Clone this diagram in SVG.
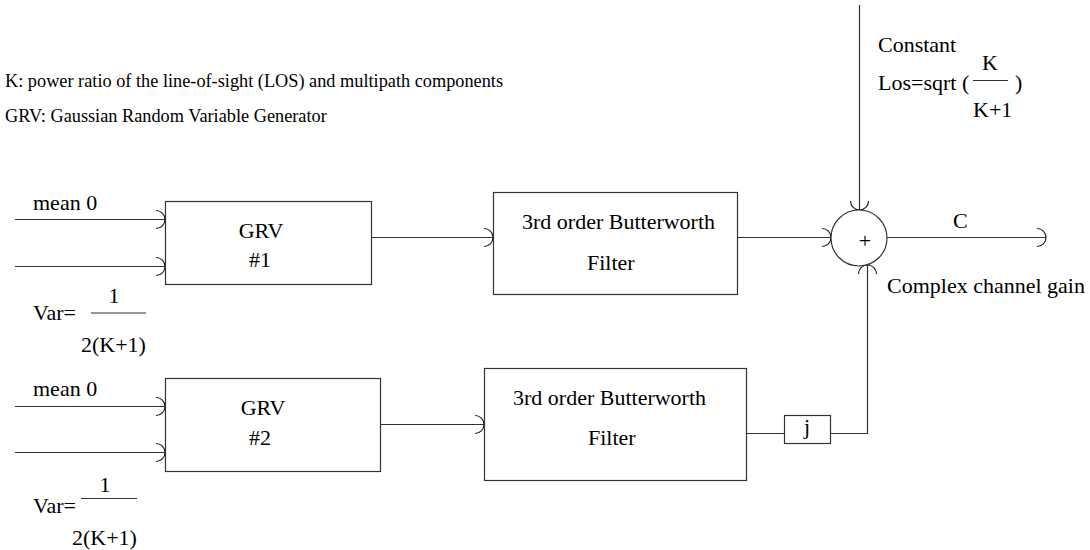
<svg xmlns="http://www.w3.org/2000/svg" width="1090" height="550" viewBox="0 0 1090 550">
<style>
text{font-family:"Liberation Serif","Times New Roman",serif;fill:#000;font-size:22px}
.hdr{font-size:18.3px}
.box{fill:#fff;stroke:#333;stroke-width:1.2}
.ln{fill:none;stroke:#333;stroke-width:1.2}
.arr{marker-end:url(#arc)}
.mid{text-anchor:middle}
</style>
<defs>
<marker id="arc" markerUnits="userSpaceOnUse" markerWidth="24" markerHeight="24" viewBox="-12 -12 24 24" refX="0" refY="0" orient="auto" overflow="visible">
<path d="M-9,-9 A9,9 0 0 1 -9,9" fill="none" stroke="#222" stroke-width="1.2"/>
</marker>
</defs>
<rect width="1090" height="550" fill="#fff"/>

<g id="legend">
<text class="hdr" x="5" y="87">K: power ratio of the line-of-sight (LOS) and multipath components</text>
<text class="hdr" x="5" y="122">GRV: Gaussian Random Variable Generator</text>
</g>

<g id="connectors">
<line class="ln arr" x1="15" y1="219.5" x2="165" y2="219.5"/>
<line class="ln arr" x1="15" y1="266.5" x2="165" y2="266.5"/>
<line class="ln arr" x1="372" y1="237.5" x2="493" y2="237.5"/>
<line class="ln arr" x1="737" y1="237.5" x2="831" y2="237.5"/>
<line class="ln arr" x1="859.5" y1="5" x2="859.5" y2="210"/>
<line class="ln arr" x1="887" y1="237.5" x2="1046" y2="237.5"/>
<line class="ln arr" x1="15" y1="406.5" x2="165" y2="406.5"/>
<line class="ln arr" x1="15" y1="452.5" x2="165" y2="452.5"/>
<line class="ln arr" x1="381" y1="424.5" x2="484" y2="424.5"/>
<line class="ln" x1="746" y1="433.5" x2="784" y2="433.5"/>
<polyline class="ln arr" points="831,433.5 867.5,433.5 867.5,265"/>
</g>

<g id="grv1">
<rect class="box" x="165.5" y="201.5" width="206" height="83"/>
<text class="mid" x="261" y="238">GRV</text>
<text class="mid" x="260" y="267">#1</text>
</g>
<g id="grv1-inputs">
<text x="33" y="210">mean 0</text>
<text x="33" y="320">Var=</text>
<text class="mid" x="114" y="303">1</text>
<line class="ln" x1="91" y1="313" x2="146" y2="313"/>
<text x="81" y="352">2(K+1)</text>
</g>

<g id="filter1">
<rect class="box" x="493.5" y="192.5" width="244" height="102"/>
<text x="522" y="229">3rd order Butterworth</text>
<text x="587" y="270">Filter</text>
</g>

<g id="grv2">
<rect class="box" x="165.5" y="378.5" width="215" height="93"/>
<text class="mid" x="263" y="415">GRV</text>
<text class="mid" x="260" y="445">#2</text>
</g>
<g id="grv2-inputs">
<text x="33" y="396">mean 0</text>
<text x="33" y="513">Var=</text>
<text class="mid" x="105" y="492">1</text>
<line class="ln" x1="81" y1="498.5" x2="137" y2="498.5"/>
<text x="72" y="545">2(K+1)</text>
</g>

<g id="filter2">
<rect class="box" x="484.5" y="368.5" width="262" height="112"/>
<text x="513" y="405">3rd order Butterworth</text>
<text x="588" y="445">Filter</text>
</g>

<g id="j">
<rect class="box" x="784.5" y="415.5" width="46" height="28"/>
<text class="mid" x="807" y="434">j</text>
</g>

<g id="sum">
<circle class="box" cx="859" cy="238" r="28"/>
<text class="mid" x="865" y="248">+</text>
</g>

<g id="constant">
<text x="878" y="52">Constant</text>
<text x="878" y="90">Los=sqrt (</text>
<text class="mid" x="990" y="70">K</text>
<line class="ln" x1="973" y1="80.5" x2="1008" y2="80.5"/>
<text x="973" y="117">K+1</text>
<text x="1015" y="90">)</text>
</g>

<g id="output-labels">
<text x="953" y="228">C</text>
<text x="887" y="293">Complex channel gain</text>
</g>
</svg>
